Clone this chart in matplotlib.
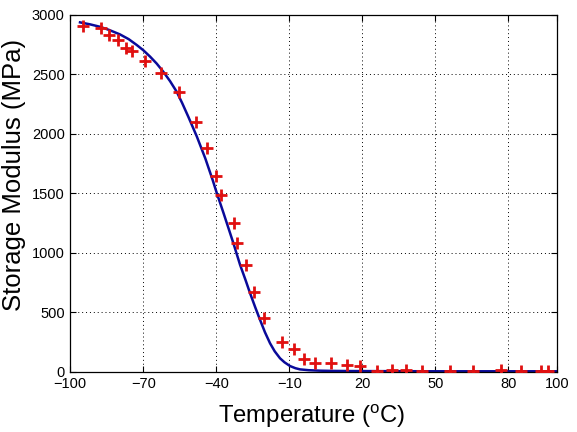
import matplotlib
matplotlib.use("Agg")
import matplotlib.pyplot as plt

# measured data (red crosses)
temp_data = [-94.7, -87.5, -84.1, -80.5, -77.1, -74.8, -69.2, -62.7, -55.2, -48.5,
             -43.8, -40.2, -38.2, -32.6, -31.6, -27.9, -24.4, -20.3, -12.9, -8.2,
             -3.9, 0.4, 7.3, 13.8, 19.0, 26.2, 32.1, 38.0, 44.4, 55.9, 65.4, 76.8,
             85.1, 93.6, 96.2]
modulus_data = [2903, 2890, 2830, 2785, 2720, 2693, 2609, 2508, 2351, 2097,
                1881, 1645, 1483, 1250, 1077, 895, 671, 447, 245, 189,
                105, 74, 74, 52, 46, 5, 12, 10, 6, 6, 6, 10,
                6, 6, 6]

# fitted curve (blue line)
temp_fit = [-96.0, -92.0, -87.8, -84.0, -79.6, -76.0, -72.7, -70.0, -67.2, -64.5,
            -61.8, -59.0, -56.3, -54.0, -51.5, -48.0, -44.5, -41.5, -39.8, -37.0,
            -35.0, -33.0, -30.2, -28.0, -26.1, -24.0, -22.0, -20.0, -17.9, -16.0,
            -13.8, -12.0, -9.7, -7.5, -5.6, -2.0, 2.6, 8.0, 15.0, 30.0, 50.0, 100.0]
modulus_fit = [2934, 2918, 2897, 2870, 2833, 2793, 2744, 2700, 2646, 2588,
               2520, 2440, 2352, 2255, 2141, 1975, 1790, 1610, 1500, 1330,
               1205, 1080, 895, 770, 657, 540, 433, 330, 237, 170,
               111, 78, 46, 28, 18, 11, 7, 5, 4, 3, 2, 2]

xticks = [-100, -70, -40, -10, 20, 50, 80, 100]
yticks = [0, 500, 1000, 1500, 2000, 2500, 3000]

plt.rcParams['font.family'] = ['Liberation Sans', 'DejaVu Sans']

fig = plt.figure(figsize=(5.77, 4.32), dpi=100)
ax = fig.add_axes([0.1218, 0.140, 0.8435, 0.8264])

ax.plot(temp_fit, modulus_fit, color='#0a0a9a', linewidth=1.8, zorder=2)
ax.plot(temp_data, modulus_data, linestyle='none', marker='+', color='#e01010',
        markersize=9, markeredgewidth=2.0, zorder=3)

ax.set_xlim(-100, 100)
ax.set_ylim(0, 3000)
ax.set_xticks(xticks)
ax.set_yticks(yticks)
ax.tick_params(direction='in', length=4, width=0.8, top=True, right=True,
               labelsize=10.5, colors='black', pad=4)
ax.grid(True, linestyle=(0, (1, 3)), color='black', linewidth=0.7)
for s in ax.spines.values():
    s.set_linewidth(0.9)

ax.set_xlabel('Temperature ($\\mathregular{^oC}$)', fontsize=17.2)
ax.xaxis.set_label_coords(0.496, -0.088)
ax.set_ylabel('Storage Modulus (MPa)', fontsize=18.5)
ax.yaxis.set_label_coords(-0.090, 0.552)

fig.savefig('out.png', dpi=100)
